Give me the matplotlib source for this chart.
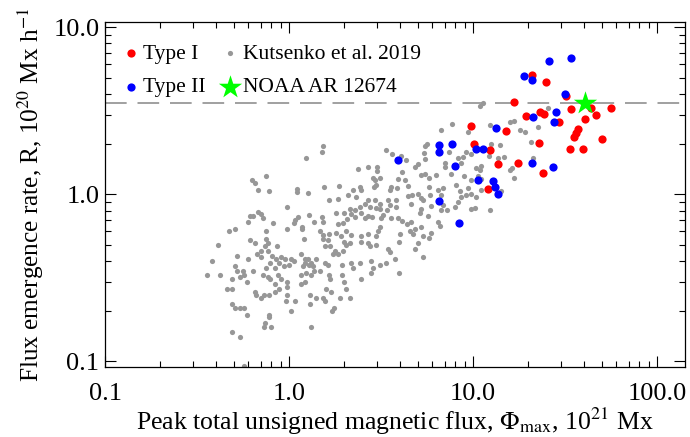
import matplotlib
matplotlib.use('Agg')
import matplotlib.pyplot as plt

plt.rcParams['font.family'] = ['Liberation Serif', 'DejaVu Serif']
plt.rcParams['mathtext.fontset'] = 'stix'

# Kutsenko et al. 2019 sample (flux in 1e21 Mx, rate in 1e20 Mx/h)
kutsenko_flux = [
    1.24, 0.75, 0.63, 0.65, 0.68, 0.78, 1.10, 1.11, 1.27, 0.97,
    0.68, 0.70, 0.72, 0.61, 0.64, 0.60, 0.82, 1.08, 1.06, 1.12,
    1.28, 1.17, 1.18, 0.98, 0.47, 0.51, 0.75, 0.41, 0.61, 0.65,
    0.75, 0.77, 0.74, 0.70, 0.77, 0.81, 0.86, 0.67, 0.70, 0.52,
    0.60, 0.38, 0.85, 0.90, 0.95, 1.03, 1.06, 1.20, 1.16, 1.22,
    1.22, 1.27, 1.32, 1.19, 1.29, 1.35, 1.37, 0.36, 0.42, 0.51,
    0.52, 0.56, 0.57, 0.54, 0.49, 0.59, 0.64, 0.75, 0.79, 0.88,
    0.94, 0.84, 1.00, 0.72, 0.77, 0.79, 0.87, 0.91, 0.97, 0.98,
    0.84, 1.16, 1.24, 1.32, 1.16, 1.22, 0.46, 0.49, 0.65, 0.66,
    0.73, 0.78, 0.70, 0.84, 0.88, 0.98, 0.96, 1.08, 1.03, 1.30,
    1.30, 0.49, 0.51, 0.54, 0.57, 0.59, 0.78, 0.78, 0.74, 0.73,
    0.80, 0.49, 0.54, 1.32, 0.57,
    1.53, 1.52, 3.38, 3.62, 4.08, 4.34, 2.38, 2.69, 3.02, 3.02,
    4.10, 2.85, 2.94, 3.11, 2.98, 2.89, 3.90, 4.25, 3.60, 3.52,
    3.86, 1.55, 1.87, 2.23, 2.42, 2.47, 2.10, 2.32, 1.64, 1.85,
    2.69, 2.58, 2.93, 3.11, 2.74, 2.42, 2.28, 2.14, 3.45, 3.52,
    3.83, 3.83, 4.46, 3.40, 3.11, 2.98, 2.47, 2.18, 2.28, 1.81,
    2.00, 2.07, 2.58, 2.69, 3.24, 3.18, 3.60, 3.91, 4.13, 4.40,
    1.52, 1.53, 1.37, 1.97, 1.85, 2.84, 3.11, 1.48, 1.53, 1.64,
    1.81, 2.04, 2.18, 1.92, 2.47, 2.69, 3.03, 2.98, 4.00, 4.53,
    1.53, 1.62, 1.57, 1.68, 1.77, 1.73, 1.85, 1.97, 2.04, 2.14,
    2.00, 2.47, 2.69, 2.74, 2.98, 3.52, 3.47, 3.96, 1.41, 1.57,
    1.63, 1.95, 2.18, 2.23, 2.42, 2.79, 2.85, 2.80, 3.11, 3.38,
    3.75, 3.96, 1.48, 1.64, 1.68, 1.95, 2.00, 2.45, 2.05, 1.59,
    1.69, 1.41, 1.53, 1.57, 1.90, 2.14, 1.75, 1.72,
    10.9, 11.4, 7.72, 6.67, 9.39, 5.51, 5.60, 5.39, 5.46, 7.41,
    8.29, 8.83, 9.20, 9.79, 5.02, 4.82, 7.02, 7.02, 8.64, 10.4,
    10.9, 11.1, 5.51, 5.74, 5.24, 6.32, 7.62, 8.94, 9.79, 10.6,
    11.1, 4.43, 4.66, 5.02, 5.19, 5.74, 5.81, 6.45, 6.73, 6.87,
    8.12, 8.46, 9.39, 9.20, 9.79, 8.64, 8.29, 7.95, 6.90, 7.19,
    6.73, 5.94, 5.35, 5.24, 4.62, 10.4, 11.1, 9.79, 10.2, 5.13,
    5.69, 6.45, 6.59, 4.62, 4.82, 5.24, 4.72, 5.35, 5.74, 5.94,
    5.02, 4.82, 5.35,
    12.3, 15.8, 16.8, 17.9, 19.2, 22.6, 25.4, 20.7, 14.1, 12.5,
    12.2, 13.7, 14.8, 21.1, 15.8, 16.3, 16.8, 12.3, 14.2,
]
kutsenko_rate = [
    1.66, 1.29, 1.22, 1.17, 1.06, 1.05, 1.07, 1.03, 1.02, 0.84,
    0.78, 0.76, 0.72, 0.74, 0.74, 0.68, 0.67, 0.70, 0.67, 0.73,
    0.75, 0.64, 0.62, 0.62, 0.60, 0.62, 0.60, 0.50, 0.53, 0.51,
    0.54, 0.51, 0.49, 0.46, 0.46, 0.43, 0.49, 0.44, 0.42, 0.43,
    0.41, 0.40, 0.41, 0.42, 0.41, 0.41, 0.40, 0.54, 0.44, 0.41,
    0.39, 0.41, 0.39, 0.37, 0.38, 0.37, 0.35, 0.33, 0.33, 0.37,
    0.35, 0.35, 0.33, 0.32, 0.31, 0.30, 0.35, 0.36, 0.39, 0.39,
    0.37, 0.36, 0.38, 0.33, 0.32, 0.31, 0.33, 0.31, 0.30, 0.28,
    0.29, 0.33, 0.34, 0.33, 0.29, 0.30, 0.27, 0.27, 0.26, 0.25,
    0.25, 0.25, 0.24, 0.26, 0.27, 0.25, 0.23, 0.23, 0.20, 0.25,
    0.22, 0.22, 0.21, 0.21, 0.21, 0.19, 0.19, 0.185, 0.17, 0.16,
    0.16, 0.15, 0.14, 0.16, 0.094,
    1.95, 1.78, 1.83, 1.74, 1.70, 1.61, 1.42, 1.45, 1.45, 1.37,
    1.36, 1.25, 1.21, 1.25, 1.14, 1.11, 1.23, 1.22, 1.10, 1.06,
    1.09, 1.10, 1.12, 1.06, 1.10, 1.06, 0.99, 0.97, 0.92, 0.94,
    0.92, 0.88, 0.92, 0.88, 0.84, 0.84, 0.81, 0.82, 0.92, 0.86,
    0.92, 0.84, 0.98, 0.81, 0.82, 0.83, 0.77, 0.76, 0.73, 0.77,
    0.77, 0.71, 0.72, 0.74, 0.75, 0.72, 0.72, 0.72, 0.69, 0.66,
    0.73, 0.68, 0.68, 0.67, 0.66, 0.73, 0.64, 0.60, 0.57, 0.58,
    0.59, 0.60, 0.57, 0.56, 0.56, 0.58, 0.60, 0.56, 0.58, 0.60,
    0.54, 0.53, 0.49, 0.49, 0.46, 0.44, 0.44, 0.46, 0.50, 0.51,
    0.52, 0.52, 0.51, 0.49, 0.50, 0.45, 0.47, 0.52, 0.41, 0.39,
    0.38, 0.38, 0.39, 0.36, 0.39, 0.40, 0.36, 0.34, 0.38, 0.39,
    0.41, 0.34, 0.35, 0.33, 0.31, 0.33, 0.30, 0.31, 0.27, 0.27,
    0.26, 0.24, 0.24, 0.23, 0.24, 0.24, 0.21, 0.20,
    3.38, 3.54, 2.63, 2.41, 2.36, 1.95, 2.00, 1.76, 1.62, 1.78,
    1.64, 1.67, 1.78, 1.74, 1.52, 1.45, 1.53, 1.45, 1.55, 1.43,
    1.40, 1.48, 1.32, 1.26, 1.31, 1.31, 1.32, 1.29, 1.22, 1.28,
    1.23, 1.12, 0.99, 1.01, 0.95, 1.11, 0.99, 1.06, 0.99, 1.09,
    1.14, 1.04, 1.09, 0.99, 1.01, 0.96, 0.90, 0.84, 0.86, 0.81,
    0.81, 0.85, 0.92, 0.82, 0.88, 0.97, 1.06, 0.82, 0.83, 0.77,
    0.74, 0.68, 0.65, 0.68, 0.62, 0.64, 0.58, 0.56, 0.55, 0.59,
    0.51, 0.47, 0.42,
    2.61, 2.71, 2.74, 2.43, 2.37, 2.52, 3.30, 2.05, 1.97, 2.01,
    1.70, 1.64, 1.68, 1.64, 1.40, 1.44, 1.26, 0.81, 1.04,
]

# Type I regions
type1_flux = [9.7, 10.1, 12.4, 15.1, 13.6, 12.0, 17.6, 16.8, 19.3, 20.8,
              24.8, 23.1, 24.2, 22.8, 23.9, 29.3, 32.2, 33.9, 43.7, 46.4,
              40.6, 37.1, 36.5, 35.3, 33.8, 39.5, 50.2, 56.1]
type1_rate = [2.57, 1.99, 1.83, 2.40, 1.52, 1.08, 1.53, 3.58, 2.93, 5.2,
              4.7, 3.12, 3.03, 2.02, 1.34, 2.71, 3.88, 3.26, 3.28, 3.00,
              2.82, 2.45, 2.34, 2.19, 1.87, 1.87, 2.14, 3.29]

# Type II regions
type2_flux = [3.9, 6.5, 6.5, 7.7, 8.0, 10.4, 11.4, 10.6, 12.8, 13.2,
              13.6, 6.5, 8.4, 13.4, 20.9, 27.2, 18.9, 20.9, 26.0, 33.9,
              31.6, 28.3, 27.5, 21.3]
type2_rate = [1.60, 1.97, 1.78, 1.99, 1.48, 1.87, 1.88, 1.21, 1.20, 1.11,
              1.01, 0.91, 0.67, 2.49, 1.54, 1.45, 5.1, 4.8, 6.3, 6.5,
              4.0, 3.12, 2.72, 2.9]

# NOAA AR 12674
ar_flux = [40.5]
ar_rate = [3.5]
threshold = 3.5

fig = plt.figure(figsize=(6.9, 4.37), dpi=100)
ax = fig.add_axes([0.1522, 0.1609, 0.8406, 0.7888])

ax.axhline(threshold, color='#999999', lw=1.3, ls=(0, (12, 6)), zorder=1)
ax.scatter(kutsenko_flux, kutsenko_rate, s=14, color='#979797', lw=0, zorder=2,
           label='Kutsenko et al. 2019')
ax.scatter(type1_flux, type1_rate, s=35, color='#ff0000', lw=0, zorder=3, label='Type I')
ax.scatter(type2_flux, type2_rate, s=35, color='#0000ff', lw=0, zorder=4, label='Type II')
ax.scatter(ar_flux, ar_rate, s=310, marker='*', color='#00ff00', lw=0, zorder=5,
           label='NOAA AR 12674')

ax.set_xscale('log')
ax.set_yscale('log')
ax.set_xlim(0.1, 142)
ax.set_ylim(0.093, 10.75)

ax.set_xticks([0.1, 1, 10, 100])
ax.set_xticklabels(['0.1', '1.0', '10.0', '100.0'])
ax.set_yticks([0.1, 1, 10])
ax.set_yticklabels(['0.1', '1.0', '10.0'])
ax.tick_params(which='both', direction='in', top=True, right=True, labelsize=19)
ax.tick_params(which='major', length=8, width=0.8)
ax.tick_params(which='minor', length=4, width=0.8)
ax.tick_params(axis='x', which='major', pad=12)
ax.tick_params(axis='y', which='major', pad=4)
for sp in ax.spines.values():
    sp.set_linewidth(0.9)

ax.set_xlabel(r'Peak total unsigned magnetic flux, $\Phi_{\rm max}$, 10$^{21}$ Mx',
              fontsize=18.5, labelpad=0.5)
ax.set_ylabel(r'Flux emergence rate, R, 10$^{20}$ Mx h$^{-1}$', fontsize=18.2, labelpad=5)

h, l = ax.get_legend_handles_labels()
order = [1, 2, 0, 3]
ax.legend([h[i] for i in order], [l[i] for i in order], ncol=2, loc='upper left',
          bbox_to_anchor=(-0.008, 1.0), frameon=False, fontsize=15.5,
          handlelength=0.8, handletextpad=0.2, columnspacing=0.7,
          borderaxespad=0.6, labelspacing=0.63, scatterpoints=1)

fig.savefig('out.png', dpi=100)
